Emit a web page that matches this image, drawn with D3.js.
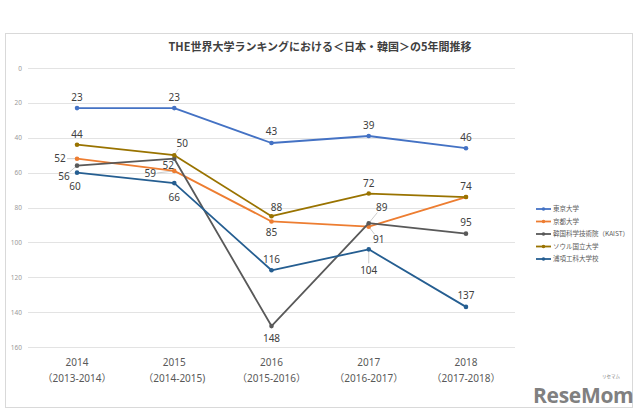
<!DOCTYPE html>
<html><head><meta charset="utf-8">
<script src="https://cdn.jsdelivr.net/npm/d3@7"></script>
<style>
html,body{margin:0;padding:0;background:#fff;}
text{font-family:"Noto Sans","Noto Sans CJK JP",sans-serif;}
</style></head>
<body><svg id="c" width="640" height="416"></svg>
<script>
const years = ["2014","2015","2016","2017","2018"];
const yearSubs = ["（2013-2014）","（2014-2015)","（2015-2016）","（2016-2017）","（2017-2018）"];
const seriesNames = ["東京大学","京都大学","韓国科学技術院（KAIST）","ソウル国立大学","浦項工科大学校"];
const tokyo   = [23, 23, 43, 39, 46];
const kyoto   = [52, 59, 88, 91, 74];
const kaist   = [56, 52, 148, 89, 95];
const snu     = [44, 50, 85, 72, 74];
const postech = [60, 66, 116, 104, 137];
const yTicks = [0,20,40,60,80,100,120,140,160];
const title = "THE世界大学ランキングにおける＜日本・韓国＞の5年間推移";

const seriesValues = [tokyo, kyoto, kaist, snu, postech];
const colors = ["#4472C4","#ED7D31","#595959","#997300","#255E91"];
// label offsets [dx, dy, leader] per series per point (null = no label)
const labelOffsets = [
  [[0,-11],[0,-11],[0,-11],[0,-11],[0,-11]],
  [[-17,0,1],[-24,3,1],[5,-14],[10,13,1],null],
  [[-13,11,1],[-6,7],[0,12],[13,-16,1],[0,-11]],
  [[0,-10],[8,-12,1],[0,16],[0,-10],[0,-11]],
  [[-2,14],[0,14],[0,-11],[0,21,1],[0,-11]]
];

const svg = d3.select("#c");
// border
svg.append("rect").attr("x",5.5).attr("y",33.5).attr("width",627).attr("height",374)
  .attr("fill","#fff").attr("stroke","#d9d9d9").attr("stroke-width",1);

const x = d3.scaleBand().domain(years).range([28.4,514.6]);
const cx = d => x(d) + x.bandwidth()/2;
const y = d3.scaleLinear().domain([0,160]).range([68,347]);

// title
svg.append("text").attr("x",320).attr("y",51).attr("text-anchor","middle")
  .attr("font-size",11).attr("font-weight","bold").attr("fill","#404040")
  .style("font-family","'Noto Sans CJK JP',sans-serif").text(title);

// gridlines
svg.append("g").selectAll("line").data(yTicks).join("line")
  .attr("x1",28).attr("x2",515).attr("y1",d=>Math.round(y(d))+0.5).attr("y2",d=>Math.round(y(d))+0.5)
  .attr("stroke","#e3e3e3").attr("stroke-width",1);

// y axis
const yAxis = svg.append("g").attr("transform","translate(28,0)")
  .call(d3.axisLeft(y).tickValues(yTicks).tickSize(0).tickPadding(6));
yAxis.select(".domain").remove();
yAxis.selectAll("text").attr("font-size",6.5).attr("fill","#9a9a9a").style("font-family","'Noto Sans',sans-serif");

// x axis
const xAxis = svg.append("g").attr("transform","translate(0,354)")
  .call(d3.axisBottom(x).tickSize(0).tickPadding(0));
xAxis.select(".domain").remove();
xAxis.selectAll("text").each(function(d,i){
  const t = d3.select(this);
  t.text(null).attr("font-size",10).attr("fill","#595959").attr("dy",null).attr("y",0);
  t.append("tspan").attr("x",0).attr("y",12).text(d);
  t.append("tspan").attr("x",0).attr("y",28).text(yearSubs[years.indexOf(d)]);
});

const line = d3.line().x((d,i)=>cx(years[i])).y(d=>y(d));
// leader lines
const plotG = svg.append("g");
seriesValues.forEach((vals,s)=>{
  vals.forEach((v,i)=>{
    const o = labelOffsets[s][i];
    if(o && o[2]){
      const px = cx(years[i]), py = y(v);
      const lx = px+o[0], ly = py+o[1];
      const dx = lx-px, dy = ly-py, len = Math.hypot(dx,dy);
      const k = Math.max(0,(len-7)/len);
      plotG.append("line").attr("x1",px).attr("y1",py).attr("x2",px+dx*k).attr("y2",py+dy*k)
        .attr("stroke","#bfbfbf").attr("stroke-width",0.8);
    }
  });
});
// lines & markers
seriesValues.forEach((vals,s)=>{
  plotG.append("path").datum(vals).attr("d",line).attr("fill","none")
    .attr("stroke",colors[s]).attr("stroke-width",1.8).attr("stroke-linejoin","round");
  plotG.selectAll(null).data(vals).join("circle")
    .attr("cx",(d,i)=>cx(years[i])).attr("cy",d=>y(d)).attr("r",2.3).attr("fill",colors[s]);
});
// data labels
seriesValues.forEach((vals,s)=>{
  vals.forEach((v,i)=>{
    const o = labelOffsets[s][i];
    if(!o) return;
    plotG.append("text").attr("x",cx(years[i])+o[0]).attr("y",y(v)+o[1])
      .attr("dy","0.35em").attr("text-anchor","middle").attr("font-size",10)
      .attr("fill","#404040").text(v);
  });
});

// legend
const lg = svg.append("g").attr("transform","translate(536,209)");
seriesNames.forEach((n,i)=>{
  const g = lg.append("g").attr("transform",`translate(0,${i*12.5})`);
  g.append("line").attr("x1",0).attr("x2",15).attr("y1",0).attr("y2",0).attr("stroke",colors[i]).attr("stroke-width",1.8);
  g.append("circle").attr("cx",7.5).attr("cy",0).attr("r",1.8).attr("fill",colors[i]);
  g.append("text").attr("x",17).attr("y",0).attr("dy","0.35em").attr("font-size",6.5)
    .attr("fill","#595959").style("font-family","'Noto Sans CJK JP',sans-serif").text(n);
});

// logo
svg.append("text").attr("x",533).attr("y",403).attr("font-size",21).attr("font-weight","bold")
  .attr("fill","#808080").attr("letter-spacing",-0.3).style("font-family","'Open Sans',sans-serif").text("ReseMom");
svg.append("text").attr("x",611).attr("y",378).attr("font-size",4.5).attr("text-anchor","middle")
  .attr("fill","#808080").style("font-family","'Noto Sans CJK JP',sans-serif").text("リセマム");
</script></body></html>
